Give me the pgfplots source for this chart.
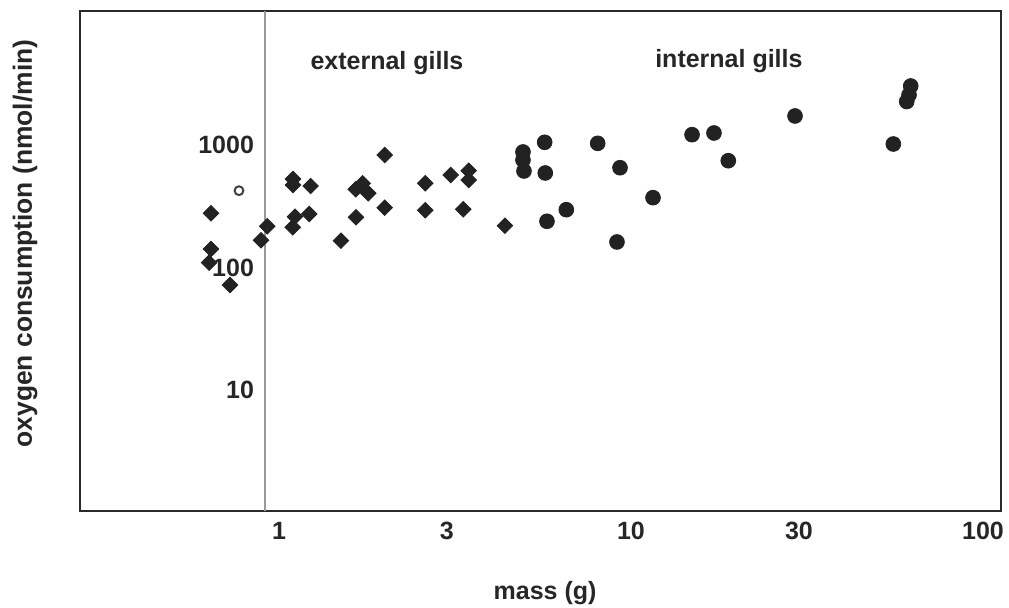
\documentclass[border=0pt]{standalone}
\usepackage{fontspec}
\setmainfont{Liberation Sans}
\usepackage{pgfplots}
\pgfplotsset{compat=1.18}
\usepackage{pgfplotstable}
\definecolor{mk}{HTML}{222222}
\definecolor{frame}{HTML}{2A2A2A}

\pgfplotstableread{
x y
0.641 277
0.641 141.6
0.633 109.4
0.726 72.0
0.926 216.9
0.889 166.7
1.096 527.8
1.096 471.6
1.230 462.8
1.110 259.8
1.094 212.9
1.219 273.4
1.500 165.5
1.652 434.9
1.729 486.9
1.794 403.4
1.655 256.9
1.997 828.6
1.997 307.7
2.604 486.9
2.604 293.0
3.075 569.2
3.459 617.1
3.459 518.0
3.339 298.6
4.385 219.4
}\external

\pgfplotstableread{
x y
4.934 876.8
4.934 754.4
4.966 613.6
5.686 1052
5.708 590.9
8.043 1032
9.307 652.5
6.551 296.4
5.772 238.4
9.125 161.5
11.55 371.4
14.91 1214
17.21 1253
18.90 744
29.24 1725
55.63 1019
62.34 3031
61.65 2560
60.72 2265
}\internal

\pgfplotstableread{
x y
0.770 423.6
}\odd

\begin{document}
\begin{tikzpicture}
\begin{axis}[
  at={(0pt,0pt)}, anchor=south west,
  scale only axis, width=460.5pt, height=250pt,
  xmode=log, ymode=log,
  xmin=0.2721, xmax=112.5,
  ymin=1.028, ymax=12410,
  axis line style={draw=frame, line width=1.1pt},
  tick style={draw=none},
  major tick length=0pt, minor tick length=0pt,
  xtick={1,3,10,30,100}, xticklabels={1,3,10,30,100},
  ytick={10,100,1000}, yticklabels={10,100,1000},
  minor xtick={}, minor ytick={},
  /pgf/number format/assume math mode=true,
  ticklabel style={font=\bfseries\fontsize{12.5}{15}\selectfont, text=black!85},
  xticklabel style={yshift=-2pt},
  yticklabel style={anchor=east, xshift=90.5pt},
  xlabel={mass (g)},
  ylabel={oxygen consumption (nmol/min)},
  xlabel style={at={(axis description cs:0.505,-0.164)}, anchor=center, font=\bfseries\fontsize{12.5}{15}\selectfont, text=black!85},
  ylabel style={at={(axis description cs:-0.0597,0.535)}, anchor=center, rotate=0, font=\bfseries\fontsize{13.2}{15}\selectfont, text=black!85},
  clip=false,
]
\addplot[gray!80, line width=0.75pt, forget plot] coordinates {(0.914,1.028) (0.914,12410)};
\addplot[only marks, mark=square*, mark size=2.75pt, mark options={rotate=45, fill=mk, draw=mk}] table {\external};
\addplot[only marks, mark=*, mark size=3.7pt, mark options={fill=mk, draw=mk}] table {\internal};
\addplot[only marks, mark=o, mark size=2.2pt, mark options={draw=black!75, line width=1pt}] table {\odd};
\node[anchor=base, font=\bfseries\fontsize{12.5}{15}\selectfont, text=black!85] at (axis cs:2.027,4130) {external gills};
\node[anchor=base, font=\bfseries\fontsize{12.5}{15}\selectfont, text=black!85] at (axis cs:18.98,4305) {internal gills};
\end{axis}
\pgfresetboundingbox
\useasboundingbox (-40pt,-48pt) rectangle (464.5pt,255.5pt);
\end{tikzpicture}
\end{document}
